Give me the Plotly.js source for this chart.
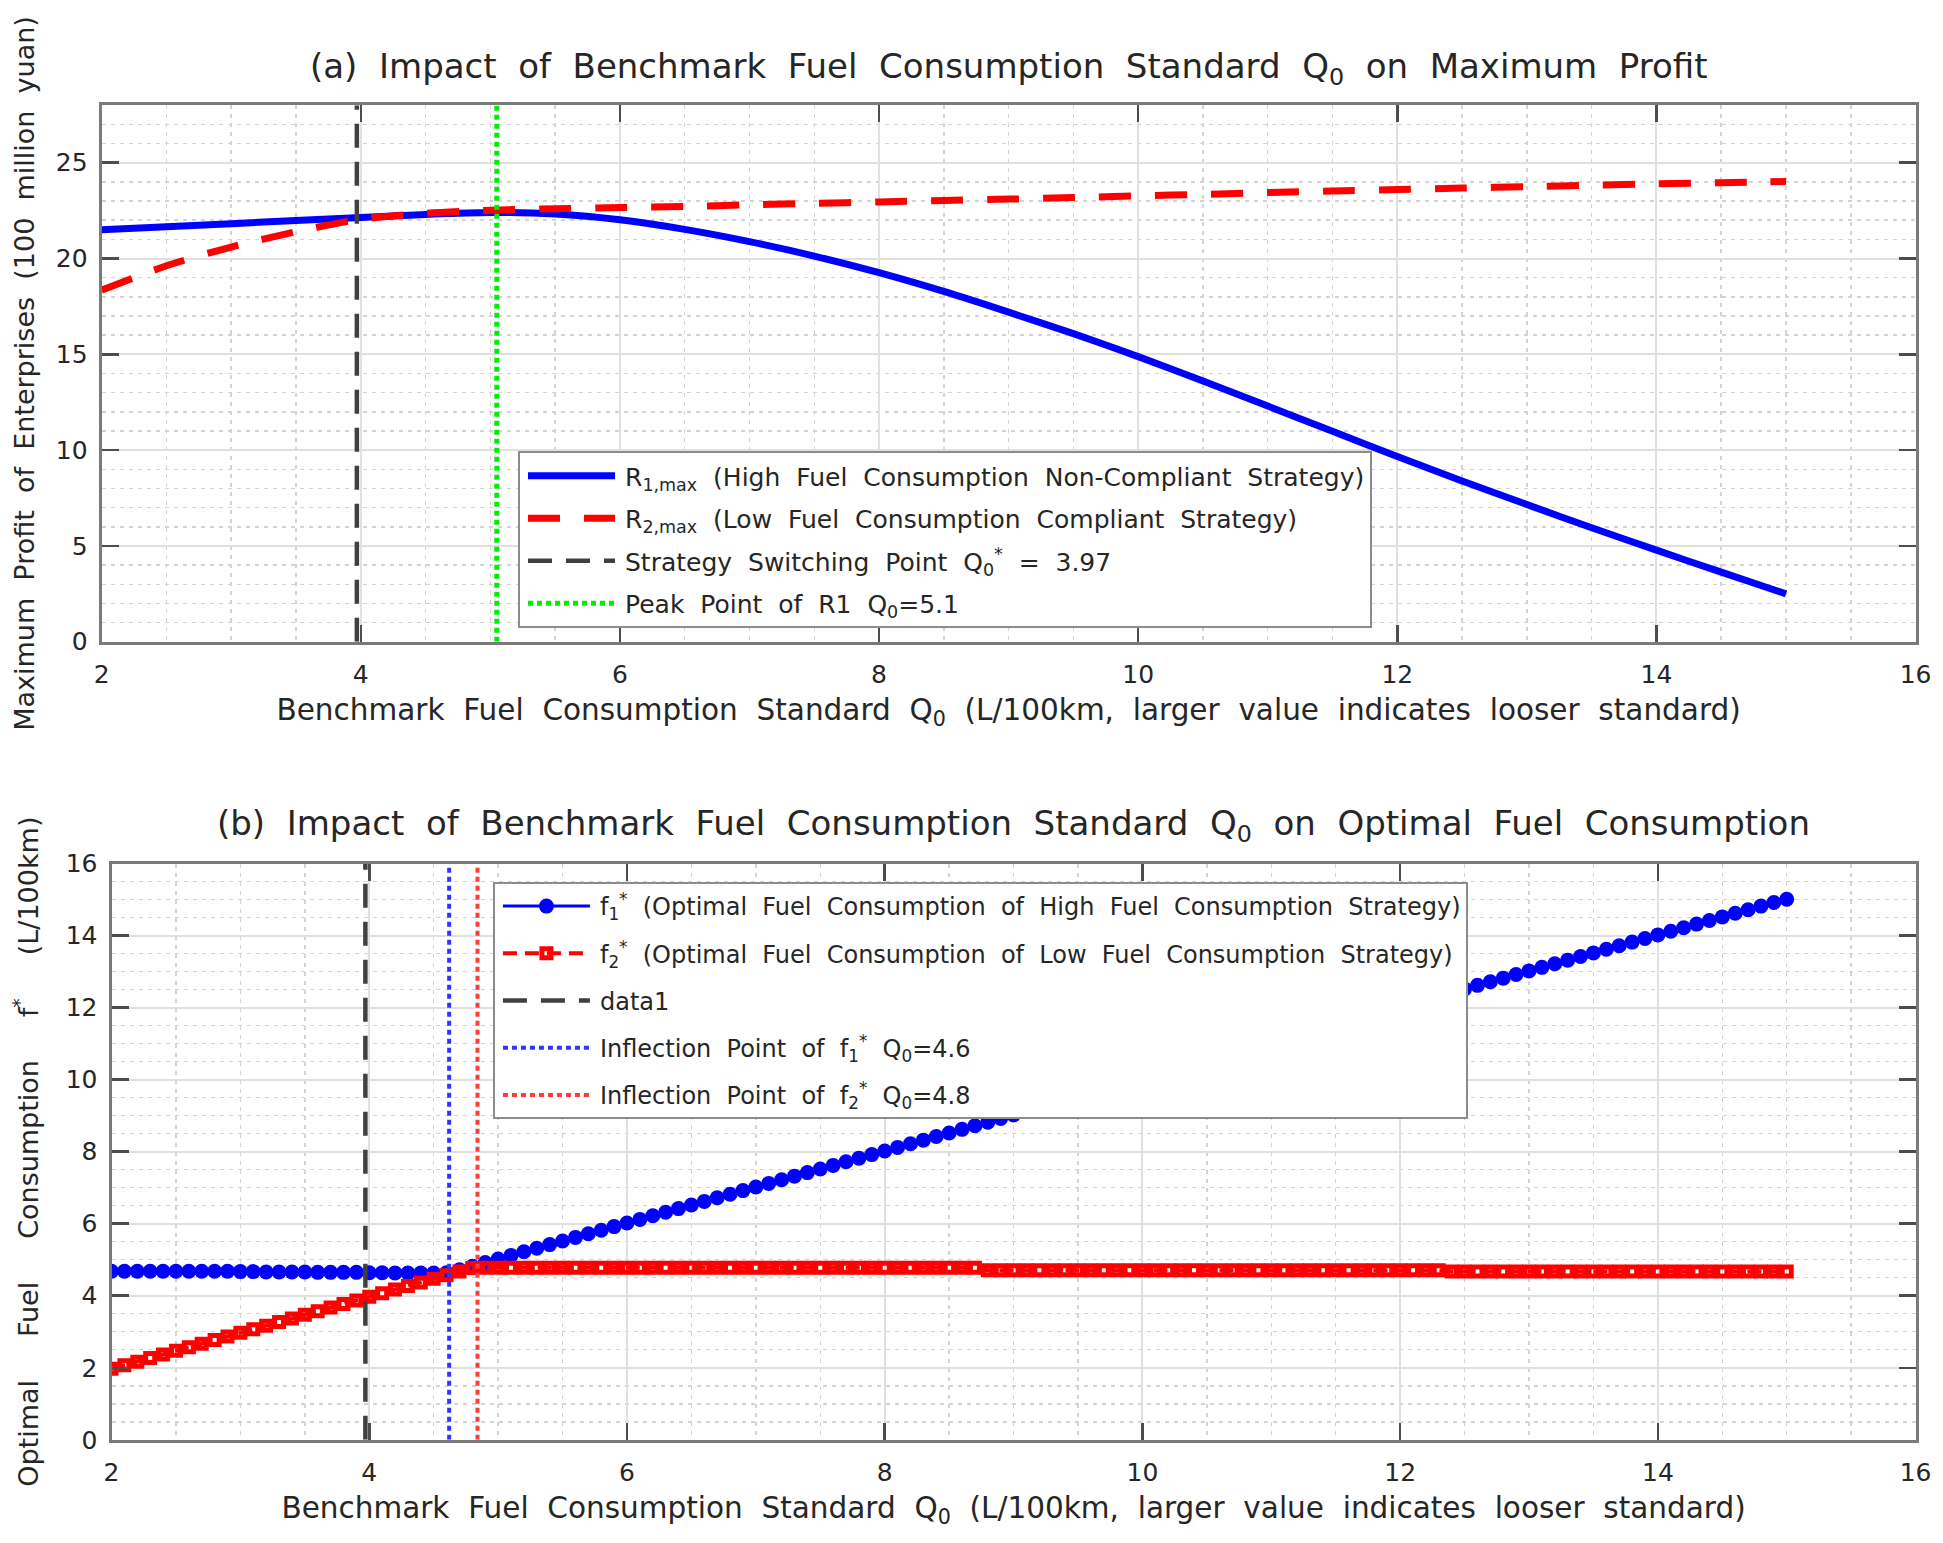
<!DOCTYPE html>
<html>
<head>
<meta charset="utf-8">
<script src="https://cdn.plot.ly/plotly-3.0.1.min.js"></script>
<style>
  html, body { margin: 0; padding: 0; background: #fff; }
  #chart { width: 1943px; height: 1543px; }
</style>
</head>
<body>
<div id="chart"></div>
<script>
// ── (a) max profit vs benchmark standard Q0 ───────────────────────────────
const q0Coarse = [2, 2.5, 3, 3.5, 4, 4.5, 5, 5.5, 6, 6.5, 7, 7.5, 8, 8.5, 9,
                  9.5, 10, 10.5, 11, 11.5, 12, 12.5, 13, 13.5, 14, 14.5, 15];
const r1Max = [21.50, 21.66, 21.82, 21.98, 22.14, 22.30, 22.40, 22.32, 22.02,
               21.52, 20.88, 20.13, 19.26, 18.28, 17.20, 16.08, 14.88, 13.61,
               12.30, 10.98, 9.67, 8.39, 7.16, 5.95, 4.78, 3.63, 2.50];
const r2Max = [18.35, 19.62, 20.60, 21.40, 22.05, 22.36, 22.52, 22.60, 22.66,
               22.72, 22.80, 22.88, 22.95, 23.03, 23.10, 23.18, 23.27, 23.35,
               23.44, 23.52, 23.60, 23.68, 23.75, 23.82, 23.90, 23.96, 24.02];
const switchQ0 = [3.97, 3.97];
const switchY  = [0, 28];
const peakQ0   = [5.05, 5.05];
const peakY    = [0, 28];

// ── (b) optimal fuel consumption vs Q0 ────────────────────────────────────
const q0Fine = [
  2.0, 2.1, 2.2, 2.3, 2.4, 2.5, 2.6, 2.7, 2.8, 2.9,
  3.0, 3.1, 3.2, 3.3, 3.4, 3.5, 3.6, 3.7, 3.8, 3.9,
  4.0, 4.1, 4.2, 4.3, 4.4, 4.5, 4.6, 4.7, 4.8, 4.9,
  5.0, 5.1, 5.2, 5.3, 5.4, 5.5, 5.6, 5.7, 5.8, 5.9,
  6.0, 6.1, 6.2, 6.3, 6.4, 6.5, 6.6, 6.7, 6.8, 6.9,
  7.0, 7.1, 7.2, 7.3, 7.4, 7.5, 7.6, 7.7, 7.8, 7.9,
  8.0, 8.1, 8.2, 8.3, 8.4, 8.5, 8.6, 8.7, 8.8, 8.9,
  9.0, 9.1, 9.2, 9.3, 9.4, 9.5, 9.6, 9.7, 9.8, 9.9,
  10.0, 10.1, 10.2, 10.3, 10.4, 10.5, 10.6, 10.7, 10.8, 10.9,
  11.0, 11.1, 11.2, 11.3, 11.4, 11.5, 11.6, 11.7, 11.8, 11.9,
  12.0, 12.1, 12.2, 12.3, 12.4, 12.5, 12.6, 12.7, 12.8, 12.9,
  13.0, 13.1, 13.2, 13.3, 13.4, 13.5, 13.6, 13.7, 13.8, 13.9,
  14.0, 14.1, 14.2, 14.3, 14.4, 14.5, 14.6, 14.7, 14.8, 14.9,
  15.0];
const f1Opt = [
  4.68, 4.68, 4.68, 4.68, 4.68, 4.68, 4.68, 4.68, 4.68, 4.68,
  4.67, 4.67, 4.66, 4.66, 4.66, 4.66, 4.65, 4.65, 4.65, 4.65,
  4.64, 4.64, 4.63, 4.63, 4.63, 4.63, 4.64, 4.72, 4.82, 4.92,
  5.02, 5.12, 5.22, 5.32, 5.42, 5.52, 5.62, 5.72, 5.82, 5.92,
  6.02, 6.12, 6.22, 6.32, 6.42, 6.52, 6.62, 6.72, 6.82, 6.92,
  7.02, 7.12, 7.22, 7.32, 7.42, 7.52, 7.62, 7.72, 7.82, 7.92,
  8.02, 8.12, 8.22, 8.32, 8.42, 8.52, 8.62, 8.72, 8.82, 8.92,
  9.02, 9.12, 9.22, 9.32, 9.42, 9.52, 9.62, 9.72, 9.82, 9.92,
  10.02, 10.12, 10.22, 10.32, 10.42, 10.52, 10.62, 10.72, 10.82, 10.92,
  11.02, 11.12, 11.22, 11.32, 11.42, 11.52, 11.62, 11.72, 11.82, 11.92,
  12.02, 12.12, 12.22, 12.32, 12.42, 12.52, 12.62, 12.72, 12.82, 12.92,
  13.02, 13.12, 13.22, 13.32, 13.42, 13.52, 13.62, 13.72, 13.82, 13.92,
  14.02, 14.12, 14.22, 14.32, 14.42, 14.52, 14.62, 14.72, 14.82, 14.92,
  15.01];
const f2Opt = [
  1.97, 2.07, 2.17, 2.27, 2.37, 2.47, 2.57, 2.67, 2.77, 2.87,
  2.97, 3.07, 3.17, 3.27, 3.37, 3.47, 3.57, 3.67, 3.77, 3.87,
  3.97, 4.07, 4.17, 4.27, 4.37, 4.47, 4.57, 4.67, 4.77, 4.78,
  4.78, 4.78, 4.78, 4.78, 4.78, 4.78, 4.78, 4.78, 4.78, 4.78,
  4.78, 4.78, 4.78, 4.78, 4.78, 4.78, 4.78, 4.78, 4.78, 4.78,
  4.78, 4.78, 4.78, 4.78, 4.78, 4.78, 4.78, 4.78, 4.78, 4.78,
  4.78, 4.78, 4.78, 4.78, 4.78, 4.78, 4.78, 4.78, 4.71, 4.71,
  4.71, 4.71, 4.71, 4.71, 4.71, 4.71, 4.71, 4.71, 4.71, 4.71,
  4.71, 4.71, 4.71, 4.71, 4.71, 4.71, 4.71, 4.71, 4.71, 4.71,
  4.71, 4.71, 4.71, 4.71, 4.71, 4.71, 4.71, 4.71, 4.71, 4.71,
  4.71, 4.71, 4.71, 4.71, 4.67, 4.67, 4.67, 4.67, 4.67, 4.67,
  4.67, 4.67, 4.67, 4.67, 4.67, 4.67, 4.67, 4.67, 4.67, 4.67,
  4.67, 4.67, 4.67, 4.67, 4.67, 4.67, 4.67, 4.67, 4.67, 4.67,
  4.67];
const bSwitchQ0 = [3.97, 3.97];
const bLineY    = [0, 16];
const inflect1Q0 = [4.62, 4.62];
const inflect2Q0 = [4.84, 4.84];

// ── estilo ────────────────────────────────────────────────────────────────
const FONT = 'DejaVu Sans, Verdana, sans-serif';
const INK  = '#262626';
const SYM  = 95;   // ancho del símbolo en la leyenda (estilo MATLAB, líneas largas)
// MATLAB deja huecos anchos entre palabras
const wide = (s, n = 2) => s.split(' ').join('\u00a0'.repeat(n));

const axisBase = {
    showline: true, linecolor: '#7a7a7a', linewidth: 3, mirror: 'ticks',
    ticks: 'inside', ticklen: 17, tickwidth: 2.5, tickcolor: '#4d4d4d',
    showgrid: true, gridcolor: '#e0e0e0', gridwidth: 2,
    zeroline: false,
    tickfont: { family: FONT, size: 25, color: INK },
};
const minorGrid = d => ({
    dtick: d, ticks: '', showgrid: true,
    gridcolor: '#d4d4d4', gridwidth: 1.5, griddash: '4px,5px',
});
const xTitle = wide('Benchmark Fuel Consumption Standard Q<sub>0</sub> (L/100km, larger value indicates looser standard)');

const traces = [
    { x: q0Coarse, y: r1Max, type: 'scatter', mode: 'lines', legendgroup: 'a1',
      line: { color: '#0000ff', width: 7, shape: 'spline', smoothing: 0.8 },
      name: wide('R<sub>1,max</sub> (High Fuel Consumption Non-Compliant Strategy)') },
    { x: q0Coarse, y: r2Max, type: 'scatter', mode: 'lines', legendgroup: 'a2',
      line: { color: '#ff0000', width: 7, dash: '32px,24px', shape: 'spline', smoothing: 0.8 },
      name: wide('R<sub>2,max</sub> (Low Fuel Consumption Compliant Strategy)') },
    { x: switchQ0, y: switchY, type: 'scatter', mode: 'lines', legendgroup: 'a3',
      line: { color: '#404040', width: 4.5, dash: '24px,14px' },
      name: wide('Strategy Switching Point Q<sub>0</sub><sup>*</sup> = 3.97') },
    { x: peakQ0, y: peakY, type: 'scatter', mode: 'lines', legendgroup: 'a4',
      line: { color: '#00ee00', width: 5, dash: '5px,4px' },
      name: wide('Peak Point of R1 Q<sub>0</sub>=5.1') },

    { x: q0Fine, y: f1Opt, type: 'scatter', mode: 'lines+markers', xaxis: 'x2', yaxis: 'y2',
      legend: 'legend2', legendgroup: 'b1',
      line: { color: '#0000ff', width: 3 },
      marker: { symbol: 'circle', size: 15, color: '#0000ff' },
      name: wide('f<sub>1</sub><sup>*</sup> (Optimal Fuel Consumption of High Fuel Consumption Strategy)') },
    { x: q0Fine, y: f2Opt, type: 'scatter', mode: 'lines+markers', xaxis: 'x2', yaxis: 'y2',
      legend: 'legend2', legendgroup: 'b2',
      line: { color: '#ff0000', width: 4, dash: '14px,8px' },
      marker: { symbol: 'square-open', size: 9, color: '#ff0000', line: { width: 5 } },
      name: wide('f<sub>2</sub><sup>*</sup> (Optimal Fuel Consumption of Low Fuel Consumption Strategy)') },
    { x: bSwitchQ0, y: bLineY, type: 'scatter', mode: 'lines', xaxis: 'x2', yaxis: 'y2',
      legend: 'legend2', legendgroup: 'b3',
      line: { color: '#404040', width: 4.5, dash: '24px,14px' },
      name: 'data1' },
    { x: inflect1Q0, y: bLineY, type: 'scatter', mode: 'lines', xaxis: 'x2', yaxis: 'y2',
      legend: 'legend2', legendgroup: 'b4',
      line: { color: '#3333ff', width: 4, dash: '5px,4px' },
      name: wide('Inflection Point of f<sub>1</sub><sup>*</sup> Q<sub>0</sub>=4.6') },
    { x: inflect2Q0, y: bLineY, type: 'scatter', mode: 'lines', xaxis: 'x2', yaxis: 'y2',
      legend: 'legend2', legendgroup: 'b5',
      line: { color: '#ff3b3b', width: 4, dash: '5px,4px' },
      name: wide('Inflection Point of f<sub>2</sub><sup>*</sup> Q<sub>0</sub>=4.8') },
];

const legendBase = {
    bgcolor: '#ffffff', bordercolor: '#8c8c8c', borderwidth: 2,
    font: { family: FONT, size: 25, color: INK },
    xanchor: 'left', yanchor: 'top', itemwidth: SYM,
};

const layout = {
    width: 1943, height: 1543,
    margin: { l: 0, r: 0, t: 0, b: 0 },
    paper_bgcolor: '#ffffff', plot_bgcolor: '#ffffff',
    font: { family: FONT, color: INK },
    showlegend: true,

    xaxis: Object.assign({}, axisBase, {
        domain: [0.0523, 0.9859], anchor: 'y', range: [2, 16], dtick: 2, tick0: 2,
        ticklabelstandoff: 8, minor: minorGrid(0.5),
        title: { text: xTitle, font: { family: FONT, size: 29.5, color: INK }, standoff: 12 },
    }),
    yaxis: Object.assign({}, axisBase, {
        domain: [0.5841, 0.9318], anchor: 'x', range: [0, 28], dtick: 5, tick0: 0,
        ticklabelstandoff: 6, minor: minorGrid(1),
        title: { text: wide('Maximum Profit of Enterprises (100 million yuan)'),
                 font: { family: FONT, size: 27, color: INK }, standoff: 14 },
    }),
    xaxis2: Object.assign({}, axisBase, {
        domain: [0.0574, 0.9859], anchor: 'y2', range: [2, 16], dtick: 2, tick0: 2,
        ticklabelstandoff: 8, minor: minorGrid(0.5),
        title: { text: xTitle, font: { family: FONT, size: 29.5, color: INK }, standoff: 12 },
    }),
    yaxis2: Object.assign({}, axisBase, {
        domain: [0.0669, 0.4403], anchor: 'x2', range: [0, 16], dtick: 2, tick0: 0,
        ticklabelstandoff: 6, minor: minorGrid(0.5),
        title: { text: wide('Optimal Fuel Consumption f<sup>*</sup> (L/100km)', 5),
                 font: { family: FONT, size: 27, color: INK }, standoff: 20 },
    }),

    legend:  Object.assign({}, legendBase, { x: 0.2666, y: 0.7077, tracegroupgap: 7 }),
    legend2: Object.assign({}, legendBase, { x: 0.2537, y: 0.4284, tracegroupgap: 13,
                                             font: { family: FONT, size: 24, color: INK } }),

    annotations: [
        { text: wide('(a) Impact of Benchmark Fuel Consumption Standard Q<sub>0</sub> on Maximum Profit'),
          xref: 'paper', yref: 'paper', x: 0.5192, y: 0.9559, xanchor: 'center', yanchor: 'middle',
          showarrow: false, font: { family: FONT, size: 34, color: INK } },
        { text: wide('(b) Impact of Benchmark Fuel Consumption Standard Q<sub>0</sub> on Optimal Fuel Consumption'),
          xref: 'paper', yref: 'paper', x: 0.5216, y: 0.4647, xanchor: 'center', yanchor: 'middle',
          showarrow: false, font: { family: FONT, size: 34, color: INK } },
    ],
};

Plotly.newPlot('chart', traces, layout, { displayModeBar: false, staticPlot: true }).then(gd => {
    // líneas de leyenda largas, con el marcador centrado, como en MATLAB
    gd.querySelectorAll('.legendlines path').forEach(p => p.setAttribute('d', `M8,0h${SYM - 8}`));
    gd.querySelectorAll('.legendpoints path.scatterpts')
      .forEach(p => p.setAttribute('transform', `translate(${SYM / 2 + 4},0)`));
});
</script>
</body>
</html>
